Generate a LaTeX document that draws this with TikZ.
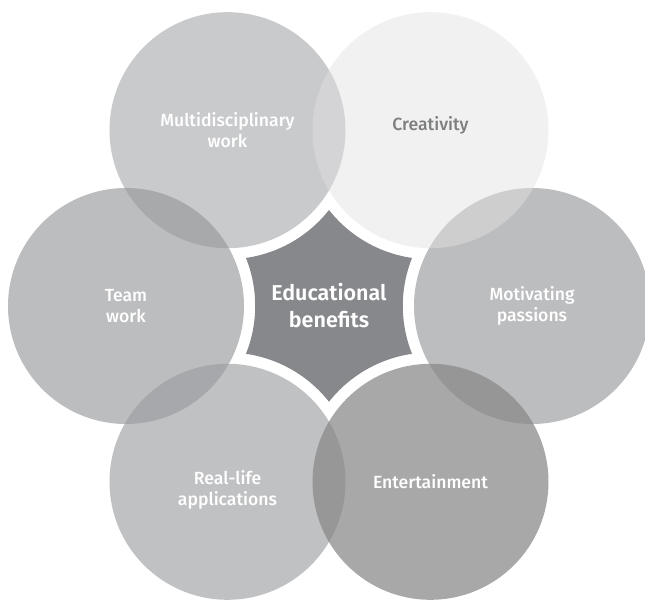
\documentclass[tikz,border=0pt]{standalone}
\usepackage{fontspec}
\setmainfont{Fira Sans}[UprightFont=* Medium,BoldFont=* SemiBold]
\usepackage{tikz}
\definecolor{multigray}{RGB}{172,173,176}
\definecolor{creatgray}{RGB}{226,226,227}
\definecolor{motivgray}{RGB}{152,153,156}
\definecolor{entergray}{RGB}{136,136,137}
\definecolor{realgray}{RGB}{157,158,161}
\definecolor{teamgray}{RGB}{149,150,153}
\definecolor{stargray}{RGB}{135,136,140}
\definecolor{textgray}{RGB}{125,126,128}

\begin{document}
\begin{tikzpicture}[x=1pt,y=1pt,bubble/.style={circle,minimum size=236pt,inner sep=0pt,draw=none},tag/.style={text=white,align=center,font=\fontsize{17.6}{21}\selectfont}]
\useasboundingbox (-329,-295) rectangle (316,306);
\begin{scope}
\node[bubble,fill=multigray,fill opacity=.65] (multi) at (120:203) {};
\node[bubble,fill=motivgray,fill opacity=.65] (motiv) at (0:203) {};
\node[bubble,fill=teamgray,fill opacity=.63] (team) at (180:203) {};
\node[bubble,fill=realgray,fill opacity=.64] (real) at (240:203) {};
\node[bubble,fill=entergray,fill opacity=.73] (enter) at (300:203) {};
\node[bubble,fill=creatgray,fill opacity=.48] (creat) at (60:203) {};
\end{scope}
% centre star
\fill[stargray] (90:96) \foreach \t in {120,180,...,420} {arc[start angle=\t-158.2,end angle=\t-201.8,radius=129.1]} -- cycle;
\begin{scope}[every node/.style={tag}]
\node (multi label) at (multi.center) {Multidisciplinary\\work};
\node[text=textgray] (creat label) at ([yshift=5]creat.center) {Creativity};
\node (motiv label) at (motiv.center) {Motivating\\passions};
\node (enter label) at (enter.center) {Entertainment};
\node (real label) at ([yshift=-8]real.center) {Real-life\\applications};
\node (team label) at (team.center) {Team\\work};
\node[font=\bfseries\fontsize{21.5}{27}\selectfont] (edu label) at (0,0) {Educational\\benefits};
\end{scope}
\end{tikzpicture}
\end{document}
